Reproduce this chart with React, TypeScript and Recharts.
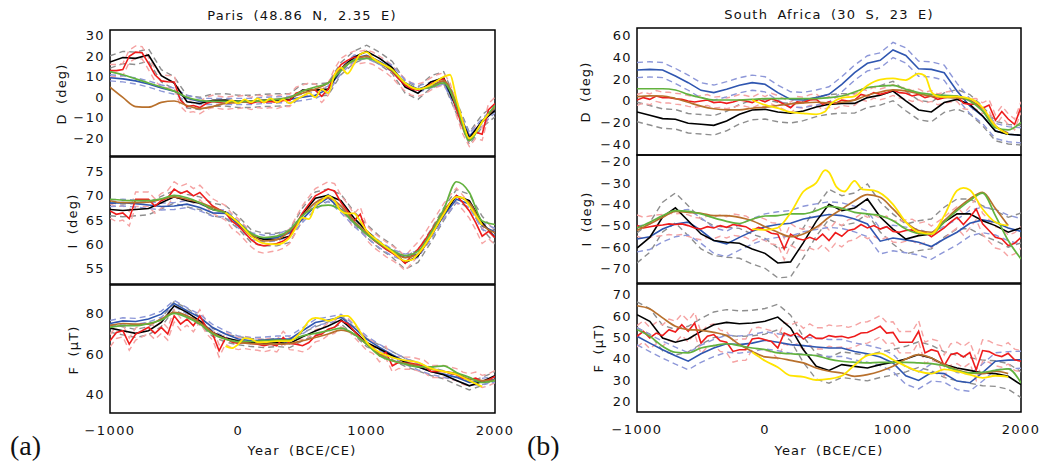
import React from 'react';
import { LineChart, Line, XAxis, YAxis, ReferenceArea } from 'recharts';

// ---------- shared year grids ----------
const YEARS_100 = [-1000, -900, -800, -700, -600, -500, -400, -300, -200, -100, 0, 100, 200, 300, 400, 500, 600, 700, 800, 900, 1000, 1100, 1200, 1300, 1400, 1500, 1600, 1700, 1800, 1900, 2000];
const YEARS_50 = [-1000, -950, -900, -850, -800, -750, -700, -650, -600, -550, -500, -450, -400, -350, -300, -250, -200, -150, -100, -50, 0, 50, 100, 150, 200, 250, 300, 350, 400, 450, 500, 550, 600, 650, 700, 750, 800, 850, 900, 950, 1000, 1050, 1100, 1150, 1200, 1250, 1300, 1350, 1400, 1450, 1500, 1550, 1600, 1650, 1700, 1750, 1800, 1850, 1900, 1950, 2000];
const YEARS_100_TO1900 = YEARS_100.slice(0, 30);
const X_TICKS = [-1000, -500, 0, 500, 1000, 1500, 2000];
const X_LABELS = [-1000, 0, 1000, 2000];

// ---------- Paris : declination ----------
const P_D_BLACK = [17.2, 19.4, 19, 20.6, 10.5, 7, -2.2, -3, -1.4, -1.3, -2, -2, -1.5, -1.3, -1.2, 3.5, 3.5, 4, 14, 19.5, 22.4, 19, 14.5, 5, 2, 7.5, 9.5, -5, -20, -11.5, -6.5];
const P_D_BLUE = [9.5, 9, 8, 6.5, 4.5, 3, -0.5, -2, -2, -2, -2, -2, -1.5, -1.3, -1, 0, 1, 4, 13, 19, 20.5, 17.5, 14, 7, 4, 6, 8, -5, -19, -12, -6];
const P_D_GREEN = [12.5, 11, 9, 7, 5, 3, 0, -1.5, -2, -2, -2, -2, -1.5, -1, 0, 3, 5, 7, 13, 18, 19, 17, 13, 7, 4, 5, 7, -4, -21, -12, -4];
const P_D_BROWN = [5, 0, -4.5, -4.8, -2.5, -1.8, -4, -5.5, -4.5, -3, -2.5, -2, -1.5, -1, 0, 2, 4, 7, 14, 18, 20, 17, 13, 7, 4, 5, 8, -3, -20, -12, -5];
const P_D_RED = [13, 13, 13.5, 20, 22, 21.7, 16.5, 11, 8, 7.6, 7.5, -1.5, -4.5, -4, -5, -3, -2, -2.5, -3, -2.5, -2.5, -2, -3, -2, -2.5, -2, -2.5, -1.5, -1.5, 2, 3, 4, 3.5, 0.5, 4, 11, 16, 18, 19.5, 19.5, 20, 19, 17, 15, 12.5, 9, 6, 4, 3.5, 4.5, 6.5, 8, 9, 4, -6, -15, -21, -17, -18, -6, -3];
const P_D_YEL_YEARS = [-100, -50, 0, 50, 100, 150, 200, 250, 300, 350, 400, 450, 500, 550, 600, 650, 700, 750, 800, 850, 900, 950, 1000, 1050, 1100, 1200, 1300, 1400, 1500, 1600, 1650, 1700, 1750, 1800, 1850, 1900, 1950];
const P_D_YEL = [-3, -1.5, -3, -1, -2.5, -0.5, -2.5, -0.5, -2.5, -1, -3, -1, 0.5, 2, 0, 4, 2, 11, 14.5, 11.5, 16, 21, 22, 19, 17, 13.5, 7, 4, 6, 10, 11, -1, -12, -20, -17, -12, -8];

// ---------- Paris : inclination ----------
const P_I_BLACK = [67.2, 67, 67.2, 67.4, 68.6, 69.8, 69, 68.5, 67.2, 66.7, 64.5, 61.7, 61, 61, 61.7, 66.2, 69.5, 70.1, 69, 65.5, 62.8, 60.4, 58.6, 56.2, 57.6, 61.7, 66.2, 70, 69, 64.5, 61.4];
const P_I_BLUE = [68.5, 68.6, 68.4, 68.1, 67.8, 67.9, 68.3, 67.6, 66.5, 66.4, 64.1, 61.7, 61.2, 61.4, 62.4, 65.2, 67.9, 69.6, 67.2, 64.5, 62.1, 60, 58.3, 57.3, 58, 61.7, 65.9, 69.3, 68.3, 63.8, 62.6];
const P_I_GREEN = [69.3, 69.1, 69, 69, 69.4, 70.1, 69.6, 68.6, 67.2, 66.5, 64.5, 62.3, 61.4, 61.7, 63, 65.9, 67.6, 68.1, 67.1, 64.5, 62.1, 60.2, 58.8, 57.7, 58.6, 62.4, 67.2, 72.9, 70.7, 64.8, 64.1];
const P_I_BROWN = [69, 68.6, 68.6, 68.7, 69.3, 69.8, 69.3, 68.6, 67.6, 66.5, 64.5, 62.1, 60.7, 61, 62.8, 65.9, 68.6, 69.6, 67.9, 64.8, 62.4, 60.2, 58.4, 57.3, 58, 61.8, 66.5, 69.8, 68.6, 64.1, 62.4];
const P_I_RED = [66.9, 66.2, 66.5, 65.3, 69.3, 69.3, 69.3, 67.9, 69, 69.6, 71.4, 70.5, 71, 70, 70.7, 69.3, 67.9, 67.2, 66.5, 64.8, 63.8, 62.4, 61, 60, 59.7, 60, 60.2, 60.7, 61.7, 64.1, 66.5, 68.3, 70, 70.7, 71.4, 71, 68.6, 66.9, 64.8, 66.2, 62.4, 61, 60, 59, 58.2, 57.3, 56.1, 57.6, 59, 60.7, 62.8, 64.8, 66.9, 68.6, 70.1, 68.6, 66.9, 64.5, 61.7, 62.7, 61.4];
const P_I_YEL_YEARS = [-100, 0, 100, 200, 300, 400, 450, 500, 550, 600, 650, 700, 750, 800, 850, 900, 950, 1000, 1100, 1200, 1300, 1350, 1400, 1500, 1600, 1700, 1750, 1800, 1850, 1900];
const P_I_YEL = [66.5, 64.5, 61.7, 60.2, 60, 61.4, 63.5, 65.5, 65.2, 67.9, 69, 70, 69, 66.9, 66.4, 66.4, 64.8, 62.8, 60.5, 58.5, 56.6, 56.8, 58, 61.7, 66.2, 69.8, 69.6, 68, 66, 64];

// ---------- Paris : intensity ----------
const P_F_BLACK = [72.9, 71.6, 70.3, 71.6, 75.7, 84, 80.7, 76.5, 70.8, 68, 66.7, 65.8, 65.3, 65.8, 65.3, 68.6, 71.5, 74, 77, 71.6, 65.8, 62.6, 59.3, 56, 53.8, 51.5, 49.9, 47, 44.4, 46.6, 49.4];
const P_F_BLUE = [75.2, 76.5, 76.2, 77.4, 79.8, 85.1, 81.5, 78.2, 73.2, 70, 67.5, 66.7, 67, 67.5, 67.5, 71.6, 75.7, 76.9, 78.2, 73.2, 67.5, 63.4, 59.8, 56.5, 53.8, 51.5, 50.2, 48.6, 46.1, 46.6, 47.7];
const P_F_GREEN = [73.3, 74.1, 74.1, 75.2, 76.9, 80.2, 78.2, 74.9, 70, 67.5, 66.3, 66.3, 66.7, 67, 67, 69.1, 70.3, 71.6, 72.9, 70, 65, 59.3, 56.8, 55.1, 53.8, 53.8, 54.3, 51, 48.6, 46.1, 47];
const P_F_BROWN = [74.1, 75.2, 74.9, 74.9, 77.4, 80.7, 79, 75.7, 70.8, 67.5, 65.8, 65.3, 65, 65, 65.3, 66.7, 68.3, 70, 71.9, 70, 65, 60, 56.8, 55.5, 54.3, 52.7, 51.5, 50.5, 47.7, 47, 47.2];
const P_F_RED = [66.7, 70.8, 71.6, 65, 70, 71.6, 73.3, 70.3, 73.3, 70, 79, 74.9, 77.4, 74.1, 79, 73.3, 70, 61.7, 68, 66.1, 65.3, 65.8, 65.3, 65, 64.2, 65, 64.2, 68.3, 65.3, 65, 64.2, 65.8, 69.1, 70, 72.4, 73.3, 76.5, 75.2, 71.6, 68.3, 65, 63.4, 59.3, 61, 54.3, 56, 55.6, 55.6, 54.8, 54, 51.5, 51.5, 51.5, 50.7, 49.9, 48.2, 47.4, 48.2, 46.6, 47.4, 49];
const P_F_YEL_YEARS = [-100, -50, 0, 50, 100, 150, 200, 300, 400, 450, 500, 550, 600, 650, 700, 750, 800, 850, 900, 950, 1000, 1100, 1200, 1300, 1400, 1500, 1600, 1700, 1800, 1900];
const P_F_YEL = [64, 63, 65, 68, 67.5, 66, 66, 66.5, 66.5, 68.5, 72, 76.5, 78, 77.5, 76.5, 77.5, 79, 79, 76, 71, 66, 61, 58.5, 57, 56, 53, 51.5, 50, 47, 44];

// ---------- South Africa : declination ----------
const S_D_BLACK = [-10.5, -13.5, -16.6, -17.2, -20.9, -21.8, -22.8, -18.8, -12.6, -8.6, -8, -10.5, -11.7, -9.5, -5.8, -3.4, -2.5, -2.5, 2.8, 4.9, 8.9, -0.3, -8.6, -10.5, -1.8, 1.2, -3.4, -14.2, -28, -31, -32];
const S_D_BLUE = [28.3, 28.9, 28.3, 22.8, 16.6, 9.5, 7.4, 10.5, 14.2, 16.6, 15.1, 7.4, 1.2, 0.6, 2.8, 5.8, 15.1, 25.8, 34.5, 37.2, 46.8, 41.8, 29.5, 28.9, 25.8, 8.9, -4.9, -14.2, -28, -31, -32];
const S_D_GREEN = [11, 11, 11, 9.8, 5.8, 2.8, 0.6, 0.6, 0.6, 1.2, 1.8, 1.8, 1.8, 1.8, 1.8, 2.8, 4.3, 8, 12, 13.5, 14.2, 10.5, 7.4, 5.8, 4.9, 4.3, -0.3, -9.5, -25, -27, -20];
const S_D_BROWN = [3.7, 4.5, 4.3, 2, -1.5, -5, -7.5, -8.5, -8.5, -7, -6, -4.5, -3, -2, -1.5, -2, -1.5, 0.5, 5, 8, 10, 9, 6.5, 4, 3, 2.5, 0.5, -9.5, -23.4, -30];
const S_D_RED = [0.6, 2.8, 1.2, 4.3, 2.8, 2.8, 1.8, 1.2, -0.3, -1.2, -0.3, 0.6, -1.8, -1.2, -2.5, -1.2, 0.6, -0.3, -1.8, 1.2, -1.2, 1.8, -0.3, -3.4, -6.5, -1.2, -1.8, 0.6, 1.2, -3.4, -1.2, -2.5, 0.6, -0.3, 0.6, 5.8, 4.3, 7.4, 5.8, 7.4, 9.8, 7.4, 6.8, 4.3, 5.8, 2.8, 4.3, 1.2, 2.8, 3.7, 4.3, -2.5, -3.4, -3, -7, -4, -18, -10, -17, -22, -6];
const S_D_YEL_YEARS = [-100, 0, 100, 200, 300, 400, 470, 500, 600, 700, 800, 900, 1000, 1100, 1200, 1250, 1300, 1350, 1400, 1500, 1600, 1700, 1800, 1900];
const S_D_YEL = [0.6, -4, -7, -10.5, -11.7, -12.6, -10, -5, 2.5, 4, 14, 19.5, 20.5, 19, 25, 23, 8, 4, 3.5, 3.7, 1.8, -6.5, -23.4, -31];

// ---------- South Africa : inclination ----------
const S_I_BLACK = [-60.5, -55.5, -46, -41.7, -47.7, -53.9, -57, -57.8, -58.3, -61, -63, -67.5, -67, -58, -48, -40, -43, -41.7, -37.5, -46, -51.6, -56.3, -54.7, -53.9, -48.4, -44.5, -44.5, -47.7, -50, -53.1, -51.1];
const S_I_BLUE = [-56.3, -55.2, -51.6, -49.2, -48.4, -52.3, -57, -58.6, -55.5, -52.7, -50.5, -49.5, -48.9, -46.9, -45.8, -44.8, -45.3, -46.9, -49.2, -57.3, -55.8, -56.7, -57.8, -59.8, -56.3, -53.1, -48.9, -47.3, -48.4, -51.1, -52.7];
const S_I_GREEN = [-51.1, -48.4, -45.3, -43, -43.3, -44.5, -46.4, -48, -49, -47, -45.5, -45.3, -44.5, -44.5, -43, -41, -41.9, -43.8, -44.5, -45.3, -47.7, -51.6, -53.6, -53.9, -48.4, -43, -38.3, -34.8, -45.3, -57, -65.6];
const S_I_BROWN = [-52.3, -49.2, -46.1, -43.3, -43.8, -44.2, -45.3, -45.3, -46.1, -47.7, -50.5, -53.1, -55.2, -53.9, -50.8, -46.1, -42.2, -38.3, -35.5, -36.7, -42.2, -48.4, -52.3, -53.1, -47.7, -42.2, -37.5, -34.4, -42, -50];
const S_I_RED = [-50, -51.1, -50.5, -50, -49.7, -49.2, -49.5, -49.2, -50, -51.1, -51.6, -50.5, -51.1, -50, -50.8, -49.5, -50, -50.5, -52.3, -50.8, -52, -53.6, -54, -61, -54, -56, -56.7, -55.5, -56.7, -54, -57, -53.3, -55, -52.3, -51.6, -49.5, -51.1, -50, -51.6, -50.5, -52.7, -53.1, -52.3, -52, -53.9, -53.1, -55.2, -53.1, -51.1, -48.4, -46.1, -49.5, -46.1, -42.2, -49.2, -52.3, -55.5, -56.3, -59.4, -58.3, -55.5];
const S_I_YEL_YEARS = [-100, 0, 100, 200, 300, 400, 470, 500, 560, 620, 700, 760, 850, 1000, 1100, 1200, 1300, 1400, 1500, 1550, 1600, 1700, 1800, 1900];
const S_I_YEL = [-51.6, -52, -51, -44, -34, -30, -24, -25, -32, -34, -29, -33, -33.5, -40, -48.4, -53.1, -53.9, -45.3, -33.6, -32.3, -33.3, -42.2, -48.4, -50];

// ---------- South Africa : intensity ----------
const S_F_BLACK = [60.6, 57.5, 49.7, 47.7, 49.2, 52.8, 55.9, 57, 56.4, 56.7, 57.5, 59.5, 54.4, 44.2, 36.4, 34.5, 37.2, 36.4, 35.6, 37.2, 38.3, 39.8, 41.9, 40.3, 37.2, 35.6, 34.5, 33.3, 33, 31.7, 27.8];
const S_F_BLUE = [50.5, 47.3, 44.2, 41.4, 38.8, 42.3, 45, 47, 46.6, 47.3, 48.6, 47.7, 46.6, 46.1, 45.5, 45, 45, 43.4, 42.3, 40.8, 38, 32, 29.8, 33.5, 33, 29.5, 28.7, 33.5, 38.8, 39.3, 39.5];
const S_F_GREEN = [53.6, 50.5, 45.8, 43, 42.7, 45, 46.1, 47, 46.1, 45, 44.2, 42.7, 42.3, 41.9, 41.4, 39.8, 38.8, 38.3, 38, 38.3, 38.3, 38.3, 38, 37.7, 36.7, 34.5, 33.3, 33.6, 34.5, 35.2, 28.6];
const S_F_BROWN = [64.8, 63.3, 59.1, 55.2, 53.6, 53.3, 52.3, 50.8, 46.6, 43.4, 40.8, 40.3, 39.2, 38, 35.6, 34.1, 33.3, 31.7, 32.5, 34.1, 36.4, 39.8, 41.9, 40.3, 37.2, 34.8, 33.3, 33, 34.1, 33];
const S_F_RED = [50.5, 52.8, 49.7, 52, 50.8, 53.6, 52.5, 55.9, 52.8, 56.7, 47.3, 50.5, 51.3, 48.4, 47.7, 43.4, 44.2, 44.2, 49.2, 49.7, 48.9, 48.1, 45, 52, 50.8, 52, 49.2, 51.3, 49.5, 49.5, 50.8, 50.2, 50.5, 49.7, 50.5, 52, 52.3, 53.6, 55.2, 52, 52.3, 47.7, 47.7, 47.7, 52.8, 42.7, 44.2, 43.4, 36.7, 41.9, 42.7, 40.8, 42.9, 34.8, 43.8, 43.3, 41.7, 41, 42.5, 39.5, 38.8];
const S_F_YEL_YEARS = [-100, -50, 0, 100, 200, 300, 400, 500, 600, 700, 800, 900, 1000, 1100, 1200, 1300, 1400, 1500, 1600, 1700, 1800, 1900];
const S_F_YEL = [43, 41, 39, 36, 32, 31.5, 30, 30.5, 32, 37, 41.5, 42.5, 39.5, 36.5, 34, 33, 35, 34, 32.5, 31, 32, 31.5];

// ---------- colours ----------
const C_BLACK = '#000000';
const C_GREY = '#8e8e8e';
const C_BLUE = '#2f56b0';
const C_LBLUE = '#8d97d8';
const C_RED = '#ee1c1c';
const C_PINK = '#f5a3a3';
const C_GREEN = '#62b23e';
const C_BROWN = '#b8702c';
const C_YELLOW = '#ffe400';

type PanelSpec = {
  black: number[]; blue: number[]; red: number[]; green: number[];
  brown: number[]; brownYears: number[]; yellow: number[]; yellowYears: number[];
  sBlack: number; sBlue: number; sRed: number;
};

const pts = (xs: number[], ys: number[], off = 0) => xs.map((x, i) => ({ x, y: ys[i] + off }));
const fmt = (v: number) => (v < 0 ? '\u2212' + Math.abs(v) : String(v));

const TICK = { fontFamily: 'DejaVu Sans', fontSize: 13, fill: '#111', letterSpacing: 1.4 };
const TEXT = { fontFamily: 'DejaVu Sans', fontSize: 13, fill: '#111', letterSpacing: 1.2, wordSpacing: 4 } as const;

function lines(d: PanelSpec) {
  const dash = '6 4';
  const common = { dot: false, isAnimationActive: false, dataKey: 'y', xAxisId: 0, yAxisId: 0 } as const;
  return [
    <Line key="gu" {...common} data={pts(YEARS_100, d.black, d.sBlack)} stroke={C_GREY} strokeWidth={1.4} strokeDasharray={dash} />,
    <Line key="gl" {...common} data={pts(YEARS_100, d.black, -d.sBlack)} stroke={C_GREY} strokeWidth={1.4} strokeDasharray={dash} />,
    <Line key="pu" {...common} data={pts(YEARS_50, d.red, d.sRed)} stroke={C_PINK} strokeWidth={1.4} strokeDasharray={dash} />,
    <Line key="pl" {...common} data={pts(YEARS_50, d.red, -d.sRed)} stroke={C_PINK} strokeWidth={1.4} strokeDasharray={dash} />,
    <Line key="lu" {...common} data={pts(YEARS_100, d.blue, d.sBlue)} stroke={C_LBLUE} strokeWidth={1.4} strokeDasharray={dash} />,
    <Line key="ll" {...common} data={pts(YEARS_100, d.blue, -d.sBlue)} stroke={C_LBLUE} strokeWidth={1.4} strokeDasharray={dash} />,
    <Line key="bl" {...common} type="linear" data={pts(YEARS_100, d.blue)} stroke={C_BLUE} strokeWidth={1.6} />,
    <Line key="bk" {...common} type="linear" data={pts(YEARS_100, d.black)} stroke={C_BLACK} strokeWidth={1.6} />,
    <Line key="rd" {...common} type="linear" data={pts(YEARS_50, d.red)} stroke={C_RED} strokeWidth={1.6} />,
    <Line key="br" {...common} type="monotone" data={pts(d.brownYears, d.brown)} stroke={C_BROWN} strokeWidth={1.7} />,
    <Line key="gr" {...common} type="monotone" data={pts(YEARS_100, d.green)} stroke={C_GREEN} strokeWidth={1.7} />,
    <Line key="ye" {...common} type="monotone" data={pts(d.yellowYears, d.yellow)} stroke={C_YELLOW} strokeWidth={1.8} />,
  ];
}

function Panel(props: {
  left: number; top: number; w: number; h: number; domain: [number, number];
  yTicks: number[]; yLabels: number[]; showX: boolean; d: PanelSpec;
}) {
  const { left, top, w, h, domain, yTicks, yLabels, showX, d } = props;
  const ML = 60, MT = 6, MR = 30;
  const MB = showX ? 2 : 6;
  const XH = showX ? 40 : 0;
  const lab = new Set(yLabels);
  return (
    <div style={{ position: 'absolute', left: left - ML, top: top - MT }}>
      <LineChart width={w + ML + MR} height={h + MT + MB + XH} margin={{ top: MT, right: MR, bottom: MB, left: 0 }}>
        <XAxis xAxisId={0} dataKey="x" type="number" domain={[-1000, 2000]} allowDataOverflow ticks={X_TICKS}
          orientation="bottom" mirror height={0} tick={false} tickSize={4} axisLine={false}
          tickLine={{ stroke: '#000', strokeWidth: 1.2 }} />
        <XAxis xAxisId="t" dataKey="x" type="number" domain={[-1000, 2000]} allowDataOverflow ticks={X_TICKS}
          orientation="top" mirror height={0} tick={false} tickSize={4} axisLine={false}
          tickLine={{ stroke: '#000', strokeWidth: 1.2 }} />
        {showX && (
          <XAxis xAxisId="lab" dataKey="x" type="number" domain={[-1000, 2000]} allowDataOverflow ticks={X_LABELS}
            orientation="bottom" height={XH} tickLine={false} axisLine={false} tickSize={6} tickMargin={7}
            tickFormatter={fmt} tick={TICK} interval={0} />
        )}
        <YAxis yAxisId={0} type="number" domain={domain} allowDataOverflow ticks={yTicks} width={ML}
          tickLine={false} axisLine={false} tickSize={0} tickMargin={5} interval={0}
          tickFormatter={(v: number) => (lab.has(v) ? fmt(v) : '')} tick={TICK} />
        <YAxis yAxisId="yt" type="number" domain={domain} allowDataOverflow ticks={yTicks} orientation="left"
          mirror width={0} tick={false} tickSize={5} axisLine={false} interval={0}
          tickLine={{ stroke: '#000', strokeWidth: 1.2 }} />
        {lines(d)}
        <ReferenceArea xAxisId={0} yAxisId={0} x1={-1000} x2={2000} y1={domain[0]} y2={domain[1]}
          fill="none" fillOpacity={0} stroke="#000" strokeWidth={1.5} />
      </LineChart>
    </div>
  );
}

const PARIS_D: PanelSpec = { black: P_D_BLACK, blue: P_D_BLUE, red: P_D_RED, green: P_D_GREEN, brown: P_D_BROWN, brownYears: YEARS_100, yellow: P_D_YEL, yellowYears: P_D_YEL_YEARS, sBlack: 3, sBlue: 1.5, sRed: 3 };
const PARIS_I: PanelSpec = { black: P_I_BLACK, blue: P_I_BLUE, red: P_I_RED, green: P_I_GREEN, brown: P_I_BROWN, brownYears: YEARS_100, yellow: P_I_YEL, yellowYears: P_I_YEL_YEARS, sBlack: 1.3, sBlue: 0.7, sRed: 1.5 };
const PARIS_F: PanelSpec = { black: P_F_BLACK, blue: P_F_BLUE, red: P_F_RED, green: P_F_GREEN, brown: P_F_BROWN, brownYears: YEARS_100, yellow: P_F_YEL, yellowYears: P_F_YEL_YEARS, sBlack: 2, sBlue: 1.5, sRed: 3 };
const SA_D: PanelSpec = { black: S_D_BLACK, blue: S_D_BLUE, red: S_D_RED, green: S_D_GREEN, brown: S_D_BROWN, brownYears: YEARS_100_TO1900, yellow: S_D_YEL, yellowYears: S_D_YEL_YEARS, sBlack: 9, sBlue: 7, sRed: 5 };
const SA_I: PanelSpec = { black: S_I_BLACK, blue: S_I_BLUE, red: S_I_RED, green: S_I_GREEN, brown: S_I_BROWN, brownYears: YEARS_100_TO1900, yellow: S_I_YEL, yellowYears: S_I_YEL_YEARS, sBlack: 7, sBlue: 6, sRed: 5 };
const SA_F: PanelSpec = { black: S_F_BLACK, blue: S_F_BLUE, red: S_F_RED, green: S_F_GREEN, brown: S_F_BROWN, brownYears: YEARS_100_TO1900, yellow: S_F_YEL, yellowYears: S_F_YEL_YEARS, sBlack: 6, sBlue: 4, sRed: 5 };

export default function App() {
  const LX = 110, LW = 385, RX = 637, RW = 384;
  return (
    <div style={{ position: 'absolute', left: 0, top: 0, width: 1045, height: 469, background: '#fff', overflow: 'hidden' }}>
      <Panel left={LX} top={30} w={LW} h={126} domain={[-28.6, 32.8]} yTicks={[-20, -10, 0, 10, 20, 30]} yLabels={[-20, -10, 0, 10, 20, 30]} showX={false} d={PARIS_D} />
      <Panel left={LX} top={157} w={LW} h={127} domain={[51.85, 78.0]} yTicks={[55, 60, 65, 70, 75]} yLabels={[55, 60, 65, 70, 75]} showX={false} d={PARIS_I} />
      <Panel left={LX} top={285} w={LW} h={128} domain={[31, 94.2]} yTicks={[40, 50, 60, 70, 80, 90]} yLabels={[40, 60, 80]} showX d={PARIS_F} />
      <Panel left={RX} top={28} w={RW} h={127} domain={[-50.2, 67.1]} yTicks={[-40, -20, 0, 20, 40, 60]} yLabels={[-40, -20, 0, 20, 40, 60]} showX={false} d={SA_D} />
      <Panel left={RX} top={155} w={RW} h={128} domain={[-76.9, -16.9]} yTicks={[-70, -60, -50, -40, -30, -20]} yLabels={[-70, -60, -50, -40, -30, -20]} showX={false} d={SA_I} />
      <Panel left={RX} top={284} w={RW} h={128} domain={[15, 75]} yTicks={[20, 30, 40, 50, 60, 70]} yLabels={[20, 30, 40, 50, 60, 70]} showX d={SA_F} />
      <svg width={1045} height={469} style={{ position: 'absolute', left: 0, top: 0, pointerEvents: 'none' }}>
        <text x={302} y={20} textAnchor="middle" {...TEXT}>Paris (48.86 N, 2.35 E)</text>
        <text x={829} y={18.5} textAnchor="middle" {...TEXT}>South Africa (30 S, 23 E)</text>
        <text x={66} y={94} textAnchor="middle" transform="rotate(-90 66 94)" {...TEXT}>D (deg)</text>
        <text x={77} y={221} textAnchor="middle" transform="rotate(-90 77 221)" {...TEXT}>I (deg)</text>
        <text x={78} y={350} textAnchor="middle" transform="rotate(-90 78 350)" {...TEXT}>F (μT)</text>
        <text x={590} y={92} textAnchor="middle" transform="rotate(-90 590 92)" {...TEXT}>D (deg)</text>
        <text x={591} y={219} textAnchor="middle" transform="rotate(-90 591 219)" {...TEXT}>I (deg)</text>
        <text x={603} y={348} textAnchor="middle" transform="rotate(-90 603 348)" {...TEXT}>F (μT)</text>
        <text x={302} y={455} textAnchor="middle" {...TEXT}>Year (BCE/CE)</text>
        <text x={829} y={455} textAnchor="middle" {...TEXT}>Year (BCE/CE)</text>
        <text x={10} y={455} fontFamily="Liberation Serif" fontSize={28} fill="#111">(a)</text>
        <text x={527} y={455} fontFamily="Liberation Serif" fontSize={28} fill="#111">(b)</text>
      </svg>
    </div>
  );
}
